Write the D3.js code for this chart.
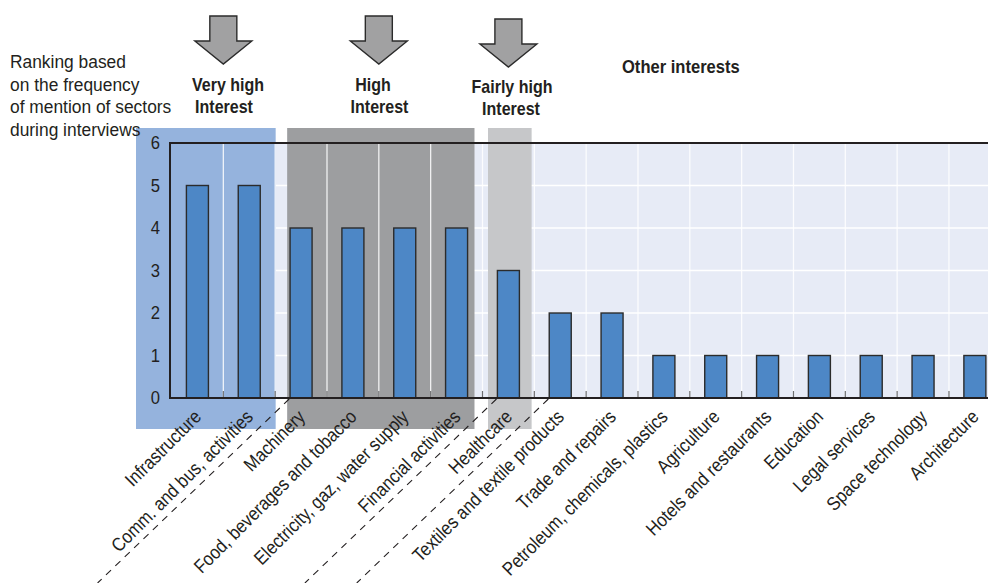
<!DOCTYPE html>
<html>
<head>
<meta charset="utf-8">
<script src="https://cdn.jsdelivr.net/npm/d3@7"></script>
<style>
  html, body { margin: 0; padding: 0; background: #ffffff; }
  svg { display: block; }
  text { font-family: "Liberation Sans", Arial, sans-serif; fill: #231f20; }
</style>
</head>
<body>
<svg id="chart" width="988" height="583"></svg>
<script>
// Sectors, ranked by how often they were mentioned in interviews
const categories = [
  "Infrastructure",
  "Comm. and bus, activities",
  "Machinery",
  "Food, beverages and tobacco",
  "Electricity, gaz, water supply",
  "Financial activities",
  "Healthcare",
  "Textiles and textile products",
  "Trade and repairs",
  "Petroleum, chemicals, plastics",
  "Agriculture",
  "Hotels and restaurants",
  "Education",
  "Legal services",
  "Space technology",
  "Architecture"
];
const values = [5, 5, 4, 4, 4, 4, 3, 2, 2, 1, 1, 1, 1, 1, 1, 1];
const yTicks = [0, 1, 2, 3, 4, 5, 6];

// Interest groups: first and last category index of each
const groupNames = [["Very high", "Interest"], ["High", "Interest"], ["Fairly high", "Interest"]];
const groupFirst = [0, 2, 6];
const groupLast = [1, 5, 6];
const otherLabel = "Other interests";
const axisTitle = ["Ranking based", "on the frequency", "of mention of sectors", "during interviews"];

const svg = d3.select("#chart");

// horizontal squeeze that gives the sans text a condensed look
const narrow = 0.9;

const plot = { left: 170, top: 143, bottom: 398, right: 1000.8 };

const x = d3.scaleBand()
  .domain(categories)
  .range([171.5, plot.right])
  .paddingInner(0)
  .paddingOuter(0);

const y = d3.scaleLinear().domain([0, 6]).range([plot.bottom, plot.top]);

const barW = 22;
const bandStart = i => x(categories[i]);
const bandEnd = i => x(categories[i]) + x.bandwidth();

// plot background
svg.append("rect")
  .attr("x", plot.left).attr("y", plot.top)
  .attr("width", plot.right - plot.left).attr("height", plot.bottom - plot.top)
  .attr("fill", "#e7ebf6");

// horizontal gridlines
svg.append("g").selectAll("line")
  .data(yTicks.filter(t => t > 0 && t < 6))
  .join("line")
  .attr("x1", plot.left).attr("x2", plot.right)
  .attr("y1", d => y(d)).attr("y2", d => y(d))
  .attr("stroke", "#ffffff").attr("stroke-width", 1.5);

// shaded interest zones
const zoneFill = ["#95b3dd", "#9d9ea0", "#c6c7c9"];
const zoneLeft = [bandStart(0) - 35.5, bandStart(2) + 12, bandStart(6) + 5.5];
const zoneRight = [bandEnd(1) + 0.5, bandEnd(5) - 8, bandEnd(6) - 2.7];
svg.append("g").selectAll("rect")
  .data(d3.range(3))
  .join("rect")
  .attr("x", i => zoneLeft[i])
  .attr("y", 128)
  .attr("width", i => zoneRight[i] - zoneLeft[i])
  .attr("height", 429 - 128)
  .attr("fill", i => zoneFill[i]);

// vertical gridlines between categories
const boundaries = categories.slice(1).map(c => x(c));
svg.append("g").selectAll("line")
  .data(boundaries)
  .join("line")
  .attr("x1", d => d).attr("x2", d => d)
  .attr("y1", plot.top).attr("y2", plot.bottom)
  .attr("stroke", "#ffffff").attr("stroke-opacity", 0.85).attr("stroke-width", 1.3);

// small ticks on the category axis
svg.append("g").selectAll("line")
  .data(boundaries)
  .join("line")
  .attr("x1", d => d).attr("x2", d => d)
  .attr("y1", plot.bottom - 7).attr("y2", plot.bottom)
  .attr("stroke", "#6d6e70").attr("stroke-width", 1.2);

// bars
svg.append("g").selectAll("rect")
  .data(categories)
  .join("rect")
  .attr("x", d => x(d) + x.bandwidth() / 2 - barW / 2)
  .attr("y", (d, i) => y(values[i]))
  .attr("width", barW)
  .attr("height", (d, i) => y(0) - y(values[i]))
  .attr("fill", "#4d87c6")
  .attr("stroke", "#2b2b2b")
  .attr("stroke-width", 1.4);

// frame: top, left and baseline
svg.append("path")
  .attr("d", `M${plot.right},${plot.top}H${plot.left}V${plot.bottom}H${plot.right}`)
  .attr("fill", "none")
  .attr("stroke", "#231f20")
  .attr("stroke-width", 2);

// y axis labels
const yAxis = d3.axisLeft(y).tickValues(yTicks).tickSize(0).tickPadding(10).tickFormat(d3.format("d"));
const gy = svg.append("g").attr("transform", `translate(${plot.left},0)`).call(yAxis);
gy.select(".domain").remove();
gy.selectAll("text")
  .attr("x", null)
  .attr("transform", `translate(-10,0) scale(${narrow},1)`)
  .style("font-size", "18.5px")
  .style("font-family", '"Liberation Sans", Arial, sans-serif')
  .attr("fill", "#231f20");

// dashed separators between group labels
const sepAngle = 44 * Math.PI / 180;
const sepX = [bandEnd(1), bandEnd(5), bandEnd(6)].map(v => v + 14);
svg.append("g").selectAll("line")
  .data(sepX)
  .join("line")
  .attr("x1", d => d).attr("y1", plot.bottom + 1)
  .attr("x2", d => d - (583 - plot.bottom) / Math.tan(sepAngle)).attr("y2", 583)
  .attr("stroke", "#231f20").attr("stroke-width", 1.1)
  .attr("stroke-dasharray", "7,6");

// rotated category labels
svg.append("g").selectAll("text")
  .data(categories)
  .join("text")
  .attr("transform", d => `translate(${x(d) + x.bandwidth() / 2 + 5},${plot.bottom + 20}) rotate(-45) scale(0.88,1)`)
  .attr("text-anchor", "end")
  .style("font-size", "19px")
  .text(d => d);

// group arrows
const arrowCx = d3.range(3).map(i => (bandStart(groupFirst[i]) + bandEnd(groupLast[i])) / 2);
const arrowTop = [16, 16, 19];
const arrowPath = (cx, t) => {
  const sw = 13.5, hw = 28.5, sh = 25, tip = 48;
  return `M${cx - sw},${t}H${cx + sw}V${t + sh}H${cx + hw}L${cx},${t + tip}L${cx - hw},${t + sh}H${cx - sw}Z`;
};
svg.append("g").selectAll("path")
  .data(d3.range(3))
  .join("path")
  .attr("d", i => arrowPath(arrowCx[i], arrowTop[i]))
  .attr("fill", "#a1a1a2")
  .attr("stroke", "#2b2b2b")
  .attr("stroke-width", 1.4)
  .attr("stroke-linejoin", "miter");

// group headings
const headX = [[228, 224], [373, 379.5], [512, 511]];
const headY = [[91, 113], [91, 113], [93, 115]];
const heads = svg.append("g");
d3.range(3).forEach(i => {
  groupNames[i].forEach((line, j) => {
    heads.append("text")
      .attr("transform", `translate(${headX[i][j]},${headY[i][j]}) scale(0.89,1)`)
      .attr("text-anchor", "middle")
      .style("font-size", "18px").style("font-weight", "bold")
      .text(line);
  });
});
svg.append("text")
  .attr("transform", `translate(622,73) scale(0.92,1)`)
  .style("font-size", "18px").style("font-weight", "bold")
  .text(otherLabel);

// axis title
svg.append("g").selectAll("text")
  .data(axisTitle)
  .join("text")
  .attr("transform", (d, i) => `translate(10,${68 + i * 22.5}) scale(0.94,1)`)
  .style("font-size", "18.5px")
  .text(d => d);
</script>
</body>
</html>
